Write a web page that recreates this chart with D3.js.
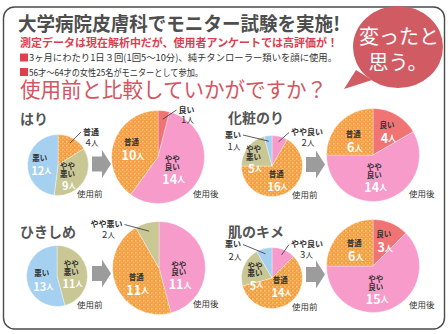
<!DOCTYPE html>
<html>
<head>
<meta charset="utf-8">
<title>使用前と比較していかがですか？</title>
<script src="https://cdn.jsdelivr.net/npm/d3@7"></script>
<style>
body { margin: 0; background: #fff; }
svg { display: block; font-family: "Noto Sans CJK JP", "Noto Sans", sans-serif; }
.name { font-size: 7.5px; font-weight: bold; fill: #333; }
.count { font-weight: bold; fill: #fff; }
.outcount { font-size: 9.5px; fill: #333; }
.phase { font-size: 8.5px; fill: #333; }
.lead { stroke: #333; stroke-width: 0.8; fill: none; }
</style>
</head>
<body>
<script>

// ---- data ----
var categories = ["良い", "やや良い", "普通", "やや悪い", "悪い"];
var itemNames = ["はり", "化粧のり", "ひきしめ", "肌のキメ"];
// counts per category (same order as categories), before and after use
var beforeCounts = [
  [0, 0, 4, 9, 12],
  [0, 2, 16, 5, 1],
  [0, 0, 0, 11, 13],
  [0, 3, 14, 5, 2]
];
var afterCounts = [
  [1, 14, 10, 0, 0],
  [4, 14, 6, 0, 0],
  [0, 11, 11, 2, 0],
  [3, 15, 6, 0, 0]
];
var phaseLabels = ["使用前", "使用後"];
var headTitle = "大学病院皮膚科でモニター試験を実施!";
var headSub = "測定データは現在解析中だが、使用者アンケートでは高評価が！";
var notes = ["3ヶ月にわたり1日３回(1回5～10分)、純チタンローラー類いを顔に使用。",
             "56才～64才の女性25名がモニターとして参加。"];
var question = "使用前と比較していかがですか？";
var bubbleLines = ["変ったと", "思う。"];

// ---- layout ----
var W = 448, H = 334;
var colors = ["#f07474", "#f79bca", "#f5a04c", "#c9c794", "#a6d0f0"];
var smallR = 30.5, bigR = 46.5;

var panels = [
  {title: [20, 124], small: [58, 165], big: [158, 157], arrow: [92, 164], before: [77, 197], after: [193, 197]},
  {title: [228, 123], small: [272, 166], big: [373, 155], arrow: [306, 164.5], before: [292, 198], after: [409, 197]},
  {title: [20, 237], small: [57, 276], big: [159, 268], arrow: [92, 273.5], before: [77, 308], after: [193, 307]},
  {title: [228, 237], small: [272, 278], big: [373, 266], arrow: [306, 274.5], before: [292, 310], after: [409, 308]}
];

// labels placed outside the pie: name / count offsets from the pie centre
var outside = {
  "0-0-2": {name: [33, -34], count: [34, -23]},
  "0-1-0": {name: [28.5, -48], count: [29.5, -38]},
  "1-0-4": {name: [-39, -32], count: [-38, -20.5]},
  "1-0-1": {name: [35, -34.5], count: [36, -24.5]},
  "2-1-3": {name: [-52.5, -44.5], count: [-50.5, -34]},
  "3-0-4": {name: [-39, -34.5], count: [-37, -22.5]},
  "3-0-1": {name: [35, -34.5], count: [34.5, -24.5]}
};
// small nudges for inside labels
var nudge = {
  "0-0-3": [-6, 1], "0-1-1": [-11, 0],
  "1-0-3": [-4, 4], "1-0-2": [-5, -2], "1-1-2": [0, 5], "1-1-1": [-6, -5],
  "2-0-3": [-4, 0], "2-0-4": [3, 1], "2-1-1": [-8, 10], "2-1-2": [3, 4],
  "3-0-3": [0, 4], "3-0-2": [-1, -8], "3-1-2": [1, 3], "3-1-1": [-8, -3]
};

var svg = d3.select("body").append("svg")
    .attr("width", W)
    .attr("height", H);

var defs = svg.append("defs");
var pat = defs.append("pattern")
    .attr("id", "speckle")
    .attr("width", 4).attr("height", 4)
    .attr("patternUnits", "userSpaceOnUse");
pat.append("rect").attr("width", 4).attr("height", 4).attr("fill", colors[2]);
pat.append("rect").attr("x", 0).attr("y", 0).attr("width", 1.5).attr("height", 1.5).attr("fill", "#f8cc66");
pat.append("rect").attr("x", 2).attr("y", 2).attr("width", 1.5).attr("height", 1).attr("fill", "#f7bb5a");
pat.append("rect").attr("x", 3).attr("y", 0.5).attr("width", 1).attr("height", 1).attr("fill", "#f0903f");

// frame
svg.append("rect")
    .attr("x", 3.5).attr("y", 7)
    .attr("width", 441).attr("height", 322)
    .attr("rx", 11)
    .attr("fill", "#fff")
    .attr("stroke", "#4a4a4a")
    .attr("stroke-width", 1.4);

// header
svg.append("text")
    .attr("x", 18).attr("y", 31)
    .attr("textLength", 322).attr("lengthAdjust", "spacingAndGlyphs")
    .style("font-size", "19.5px").style("font-weight", "bold").style("fill", "#4e4e4e")
    .text(headTitle);

svg.append("text")
    .attr("x", 20).attr("y", 47)
    .attr("textLength", 318).attr("lengthAdjust", "spacingAndGlyphs")
    .style("font-size", "11px").style("font-weight", "bold").style("fill", "#d9404f")
    .text(headSub);

var noteEnd = [337, 203];
notes.forEach(function(t, i) {
  var y = 61 + i * 14.5;
  svg.append("rect")
      .attr("x", 20).attr("y", y - 7.5)
      .attr("width", 8).attr("height", 8)
      .attr("fill", "#e0404e");
  svg.append("text")
      .attr("x", 29).attr("y", y)
      .attr("textLength", noteEnd[i] - 29).attr("lengthAdjust", "spacingAndGlyphs")
      .style("font-size", "9.5px").style("fill", "#333")
      .text(t);
});

svg.append("text")
    .attr("x", 20).attr("y", 97)
    .attr("textLength", 307).attr("lengthAdjust", "spacingAndGlyphs")
    .style("font-size", "21px").style("fill", "#d3555f")
    .text(question);

// speech bubble
var bubble = svg.append("g");
bubble.append("path")
    .attr("d", "M356,70 L344,89 L372,80 Z")
    .attr("fill", "#d15b63");
bubble.append("ellipse")
    .attr("cx", 398).attr("cy", 47)
    .attr("rx", 45).attr("ry", 41)
    .attr("fill", "#d15b63");
bubbleLines.forEach(function(t, i) {
  bubble.append("text")
      .attr("x", i ? 398 : 399).attr("y", 44 + i * 26)
      .attr("text-anchor", "middle")
      .style("font-size", "20px").style("fill", "#fff")
      .text(t);
});

// pies
var pie = d3.pie().sort(null).value(function(d) { return d.v; });

function splitName(c) {
  return c.indexOf("やや") === 0 ? ["やや", c.slice(2)] : [c];
}

function drawPie(pi, which, counts, center, r) {
  var data = counts.map(function(v, i) { return {v: v, c: i}; });
  var arcs = pie(data).filter(function(d) { return d.data.v > 0; });
  var arc = d3.arc().innerRadius(0).outerRadius(r);
  var g = svg.append("g")
      .attr("transform", "translate(" + center[0] + "," + center[1] + ")");

  g.selectAll("path.slice")
    .data(arcs)
    .join("path")
      .attr("class", "slice")
      .attr("d", arc)
      .attr("fill", function(d) { return d.data.c === 2 ? "url(#speckle)" : colors[d.data.c]; })
      .attr("stroke", "#fff")
      .attr("stroke-opacity", 0.6)
      .attr("stroke-width", 0.6);

  var labelArc = d3.arc().innerRadius(r * 0.6).outerRadius(r * 0.6);
  var leadArc = d3.arc().innerRadius(r * 0.82).outerRadius(r * 0.82);
  var countSize = which ? 12.5 : 11;

  arcs.forEach(function(d) {
    var key = pi + "-" + which + "-" + d.data.c;
    var name = categories[d.data.c];
    var o = outside[key];
    if (o) {
      var nt = g.append("text")
          .attr("class", "name")
          .attr("x", o.name[0]).attr("y", o.name[1])
          .attr("text-anchor", "middle")
          .attr("dominant-baseline", "central")
          .style("font-size", "8px")
          .text(name);
      var w = nt.node().getComputedTextLength();
      var ct = g.append("text")
          .attr("class", "outcount")
          .attr("x", o.count[0]).attr("y", o.count[1])
          .attr("text-anchor", "middle")
          .attr("dominant-baseline", "central")
          .text(d.data.v);
      ct.append("tspan").style("font-size", "7.5px").text("人");
      var p = leadArc.centroid(d);
      var ex = o.name[0] > 0 ? o.name[0] - w / 2 - 2 : o.name[0] + w / 2 + 2;
      g.append("path")
          .attr("class", "lead")
          .attr("d", d3.line()([p, [ex, o.name[1] + 1]]));
      return;
    }
    var c = labelArc.centroid(d);
    var n = nudge[key] || [0, 0];
    var cx = c[0] + n[0], cy = c[1] + n[1];
    var lines = splitName(name);
    var ys = lines.length === 2 ? [cy - 10, cy - 2.5] : [cy - 6.5];
    lines.forEach(function(l, j) {
      g.append("text")
          .attr("class", "name")
          .attr("x", cx).attr("y", ys[j])
          .attr("text-anchor", "middle")
          .attr("dominant-baseline", "central")
          .text(l);
    });
    var ct2 = g.append("text")
        .attr("class", "count")
        .attr("x", cx + 1.5).attr("y", lines.length === 2 ? cy + 9.5 : cy + 6.5)
        .attr("text-anchor", "middle")
        .attr("dominant-baseline", "central")
        .style("font-size", countSize + "px")
        .text(d.data.v);
    ct2.append("tspan").style("font-size", (countSize * 0.65) + "px").text("人");
  });
}

panels.forEach(function(p, i) {
  svg.append("text")
      .attr("x", p.title[0]).attr("y", p.title[1])
      .style("font-size", "14px").style("font-weight", "bold").style("fill", "#555")
      .text(itemNames[i]);

  // arrow
  var a = p.arrow;
  svg.append("path")
      .attr("d", d3.line()([
        [a[0], a[1] - 7.5], [a[0] + 10, a[1] - 7.5], [a[0] + 10, a[1] - 14],
        [a[0] + 19, a[1]], [a[0] + 10, a[1] + 14], [a[0] + 10, a[1] + 7.5],
        [a[0], a[1] + 7.5]
      ]) + "Z")
      .attr("fill", "#9c9c9c");

  drawPie(i, 0, beforeCounts[i], p.small, smallR);
  drawPie(i, 1, afterCounts[i], p.big, bigR);

  svg.append("text").attr("class", "phase")
      .attr("x", p.before[0]).attr("y", p.before[1]).text(phaseLabels[0]);
  svg.append("text").attr("class", "phase")
      .attr("x", p.after[0]).attr("y", p.after[1]).text(phaseLabels[1]);
});

</script>
</body>
</html>
